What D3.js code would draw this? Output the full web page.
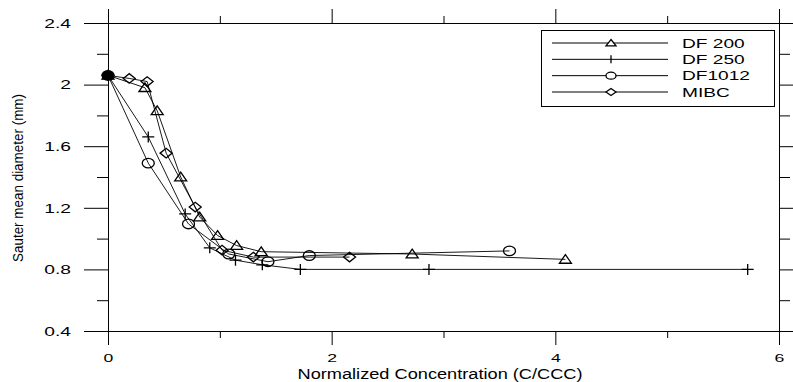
<!DOCTYPE html>
<html>
<head>
<meta charset="utf-8">
<script src="https://cdn.jsdelivr.net/npm/d3@7"></script>
<style>
  html, body { margin: 0; padding: 0; background: #fff; }
  svg { display: block; }
  text { font-family: Arial, "Liberation Sans", sans-serif; fill: #000; }
</style>
</head>
<body>
<svg id="chart" width="793" height="382"></svg>
<script>
// Sauter mean diameter against normalized frother concentration
const seriesNames = ["DF 200", "DF 250", "DF1012", "MIBC"];
const markerKinds = ["triangle", "plus", "circle", "diamond"];

const df200X = [0, 0.33, 0.44, 0.65, 0.82, 0.98, 1.15, 1.37, 2.72, 4.09];
const df200Y = [2.06, 1.98, 1.83, 1.40, 1.14, 1.02, 0.955, 0.915, 0.90, 0.865];

const df250X = [0, 0.36, 0.69, 0.91, 1.14, 1.38, 1.72, 2.87, 5.72];
const df250Y = [2.06, 1.66, 1.16, 0.94, 0.86, 0.83, 0.80, 0.80, 0.80];

const df1012X = [0, 0.36, 0.72, 1.08, 1.43, 1.80, 3.59];
const df1012Y = [2.06, 1.49, 1.095, 0.90, 0.85, 0.89, 0.92];

const mibcX = [0, 0.19, 0.35, 0.52, 0.78, 1.02, 1.30, 2.16];
const mibcY = [2.06, 2.04, 2.02, 1.555, 1.205, 0.925, 0.88, 0.88];

const xMajorTicks = [0, 2, 4, 6];
const xMinorTicks = [1, 3, 5];
const yMajorTicks = [0.4, 0.8, 1.2, 1.6, 2.0, 2.4];
const yMinorTicks = [0.6, 1.0, 1.4, 1.8, 2.2];

const xTitle = "Normalized Concentration (C/CCC)";
const yTitle = "Sauter mean diameter (mm)";

const seriesX = [df200X, df250X, df1012X, mibcX];
const seriesY = [df200Y, df250Y, df1012Y, mibcY];

const svg = d3.select("#chart");
const plotLeft = 108, plotRight = 779, plotTop = 23, plotBottom = 331;

const x = d3.scaleLinear().domain([0, 6]).range([plotLeft, plotRight]);
const y = d3.scaleLinear().domain([0.4, 2.4]).range([plotBottom, plotTop]);

const fmtY = d => d === 2 ? "2" : d3.format(".1f")(d);
const fmtX = d3.format("d");

// Stretch a text element horizontally by a factor (wide typeface look)
function widen(sel, factor) {
  sel.each(function () {
    const w = this.getComputedTextLength();
    d3.select(this).attr("textLength", w * factor).attr("lengthAdjust", "spacingAndGlyphs");
  });
}

function styleAxis(g) {
  g.selectAll("path.domain").attr("stroke", "#000").attr("stroke-width", 1);
  g.selectAll(".tick line").attr("stroke", "#000").attr("stroke-width", 1);
}

// Left axis: labelled major ticks and short minor ticks
const gLeft = svg.append("g").attr("transform", `translate(${plotLeft},0)`)
  .call(d3.axisLeft(y).tickValues(yMajorTicks).tickFormat(fmtY).tickSize(24).tickSizeOuter(0).tickPadding(13));
gLeft.append("g").call(d3.axisLeft(y).tickValues(yMinorTicks).tickFormat("").tickSize(11).tickSizeOuter(0));
styleAxis(gLeft);
gLeft.selectAll(".tick text").attr("font-size", 12).attr("font-family", "Arial, 'Liberation Sans', sans-serif")
  .attr("fill", "#000").attr("dy", "0.36em").call(widen, 1.6);

// Bottom axis
const gBottom = svg.append("g").attr("transform", `translate(0,${plotBottom})`)
  .call(d3.axisBottom(x).tickValues(xMajorTicks).tickFormat(fmtX).tickSize(14).tickSizeOuter(0).tickPadding(9));
gBottom.append("g").call(d3.axisBottom(x).tickValues(xMinorTicks).tickFormat("").tickSize(7).tickSizeOuter(0));
styleAxis(gBottom);
gBottom.selectAll(".tick text").attr("font-size", 11).attr("font-family", "Arial, 'Liberation Sans', sans-serif")
  .attr("fill", "#000").call(widen, 1.6);

// Top axis (no labels)
const gTop = svg.append("g").attr("transform", `translate(0,${plotTop})`)
  .call(d3.axisTop(x).tickValues(xMajorTicks).tickFormat("").tickSize(14).tickSizeOuter(0));
gTop.append("g").call(d3.axisTop(x).tickValues(xMinorTicks).tickFormat("").tickSize(7).tickSizeOuter(0));
styleAxis(gTop);

// Right axis (no labels)
const gRight = svg.append("g").attr("transform", `translate(${plotRight},0)`)
  .call(d3.axisRight(y).tickValues(yMajorTicks).tickFormat("").tickSize(24).tickSizeOuter(0));
gRight.append("g").call(d3.axisRight(y).tickValues(yMinorTicks).tickFormat("").tickSize(11).tickSizeOuter(0));
styleAxis(gRight);

// Axis titles
svg.append("text")
  .attr("x", 440).attr("y", 379)
  .attr("text-anchor", "middle")
  .attr("font-size", 14)
  .attr("textLength", 285).attr("lengthAdjust", "spacingAndGlyphs")
  .text(xTitle);

svg.append("text")
  .attr("transform", "translate(23,178) rotate(-90)")
  .attr("text-anchor", "middle")
  .attr("font-size", 15)
  .attr("textLength", 168).attr("lengthAdjust", "spacingAndGlyphs")
  .text(yTitle);

// Marker shapes, sized as half-width w and half-height h
function markerPath(kind, w, h) {
  switch (kind) {
    case "triangle": return `M0,${-h} L${w},${h * 0.8} L${-w},${h * 0.8} Z`;
    case "plus": return `M${-w},0 H${w} M0,${-h} V${h}`;
    case "circle": return `M${-w},0 A${w},${h} 0 1,0 ${w},0 A${w},${h} 0 1,0 ${-w},0 Z`;
    case "diamond": return `M${-w},0 L0,${-h} L${w},0 L0,${h} Z`;
  }
}

const line = d3.line().x(d => x(d[0])).y(d => y(d[1]));
const plot = svg.append("g");

seriesNames.forEach((name, i) => {
  const pts = seriesX[i].map((v, j) => [v, seriesY[i][j]]);
  plot.append("path")
    .datum(pts)
    .attr("d", line)
    .attr("fill", "none")
    .attr("stroke", "#000")
    .attr("stroke-width", 0.9);
  const kind = markerKinds[i];
  const size = kind === "plus" ? [6, 5.5] : [6, 4.8];
  plot.selectAll(null)
    .data(pts)
    .enter().append("path")
    .attr("transform", d => `translate(${x(d[0])},${y(d[1])})`)
    .attr("d", markerPath(kind, size[0], size[1]))
    .attr("fill", (d, j) => j === 0 ? "#000" : "none")
    .attr("stroke", "#000")
    .attr("stroke-width", 1.3);
});

// Legend
const legend = svg.append("g");
legend.append("rect")
  .attr("x", 541.5).attr("y", 30.5).attr("width", 233).attr("height", 76)
  .attr("fill", "#fff").attr("stroke", "#000").attr("stroke-width", 1);
const rowY = d3.scalePoint().domain(seriesNames).range([43, 92]);
seriesNames.forEach((name, i) => {
  const ry = rowY(name);
  legend.append("line")
    .attr("x1", 552).attr("x2", 668).attr("y1", ry).attr("y2", ry)
    .attr("stroke", "#000").attr("stroke-width", 1);
  const kind = markerKinds[i];
  const size = kind === "plus" ? [0, 4] : [5, 3.5];
  legend.append("path")
    .attr("transform", `translate(611,${ry})`)
    .attr("d", markerPath(kind, size[0], size[1]))
    .attr("fill", "#fff")
    .attr("stroke", "#000")
    .attr("stroke-width", 1.3);
  legend.append("text")
    .attr("x", 682).attr("y", ry)
    .attr("dy", "0.36em")
    .attr("font-size", 13)
    .text(name)
    .call(widen, 1.47);
});
</script>
</body>
</html>
